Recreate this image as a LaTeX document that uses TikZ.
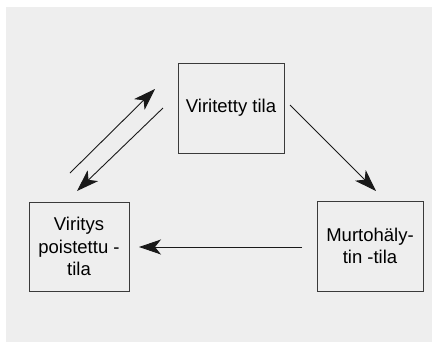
\documentclass[tikz,border=0pt]{standalone}
\usepackage{fontspec}
\setmainfont{Liberation Sans}
\usetikzlibrary{arrows.meta, positioning}
\definecolor{panelgray}{HTML}{EEEEEE}
\definecolor{boxline}{HTML}{3A3A3A}
\tikzset{
  statebox/.style={draw=boxline, line width=1pt, align=center,
                   font=\fontsize{18.5}{22.5}\selectfont,
                   minimum width=106pt, minimum height=90pt, inner sep=2pt},
  statearrow/.style={-{Stealth[length=22pt, width=15pt, inset=6pt]},
                     line width=0.9pt, black!90}
}

\begin{document}
\begin{tikzpicture}[x=1pt, y=-1pt]

% --- Frame and grey panel ---
\useasboundingbox (0,0) rectangle (432,343);
\fill[panelgray] (6,7) rectangle (432,342);

% --- States ---
\node[statebox] (armed)    at (231,108)   {Viritetty tila};
\node[statebox, minimum width=100pt, minimum height=89pt]
                (disarmed) at (79,246.5)  {Viritys\\poistettu -\\tila};
\node[statebox] (alarm)    at (370,246)   {Murtohäly-\\tin -tila};

% --- Arrow end points (arrows stop short of the boxes) ---
\coordinate (armin)   at (70,173);
\coordinate (armout)  at (155,89);
\coordinate (disin)   at (163,108);
\coordinate (disout)  at (77,191);
\coordinate (alin)    at (290,105);
\coordinate (alout)   at (376,191);
\coordinate (resin)   at (302,247);
\coordinate (resout)  at (139,247);

% --- Transitions ---
\draw[statearrow] (armin) -- (armout);
\draw[statearrow] (disin) -- (disout);
\draw[statearrow] (alin)  -- (alout);
\draw[statearrow] (resin) -- (resout);

\end{tikzpicture}
\end{document}
